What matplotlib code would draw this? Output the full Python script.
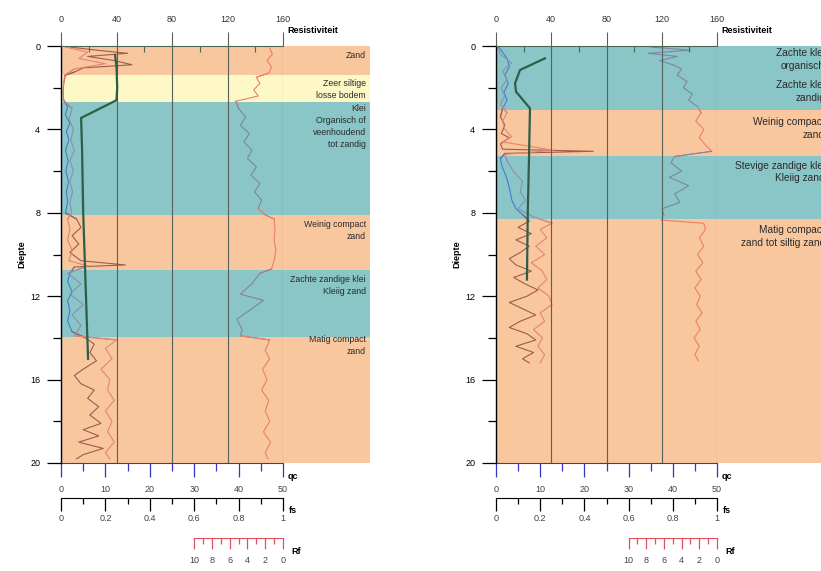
import numpy as np
import matplotlib
matplotlib.use("Agg")
import matplotlib.pyplot as plt

plt.rcParams['font.family'] = ['Liberation Sans', 'DejaVu Sans']

# layer fills and curve colours per soil type
FILL = {"sand": "#F9C79D", "clay": "#8AC5C7", "silt": "#FDF8C6"}
QC_COL = {"sand": "#A05A50", "silt": "#A05A50", "clay": "#3F7FCC"}
FS_COL = {"sand": "#E68472", "silt": "#E68472", "clay": "#8C8FB0"}
RF_COL = {"sand": "#EE7E68", "silt": "#EE7E68", "clay": "#7F86A4"}
RES_COL = "#2E5E48"
GRID_COL = "#56625A"

RES_TICKS = [0, 40, 80, 120, 160]
RES_MINOR = [20, 60, 100, 140]
DEPTH_TICKS = [0, 4, 8, 12, 16, 20]
QC_TICKS = [0, 10, 20, 30, 40, 50]
FS_TICKS = [0, 0.2, 0.4, 0.6, 0.8, 1]
FS_LABELS = ["0", "0.2", "0.4", "0.6", "0.8", "1"]
RF_TICKS = [10, 8, 6, 4, 2, 0]

# ---------------- left sounding ----------------
left_layers = [(0.0, 1.39, "sand"), (1.39, 2.69, "silt"), (2.69, 8.1, "clay"),
               (8.1, 10.74, "sand"), (10.74, 13.96, "clay"), (13.96, 20.0, "sand")]
left_labels = [(0.22, "Zand"), (1.56, "Zeer siltige\nlosse bodem"),
               (2.78, "Klei\nOrganisch of\nveenhoudend\ntot zandig"),
               (8.35, "Weinig compact\nzand"), (11.0, "Zachte zandige klei\nKleiig zand"),
               (13.85, "Matig compact\nzand")]

left_qc_d = [0.05, 0.2, 0.35, 0.5, 0.7, 0.9, 1.05, 1.25, 1.4, 1.8, 2.2, 2.6, 2.9, 3.3, 3.7,
             4.1, 4.5, 5.0, 5.5, 6.0, 6.5, 7.0, 7.5, 8.0, 8.3, 8.7, 9.1, 9.5, 9.9, 10.3,
             10.5, 10.6, 10.9, 11.3, 11.8, 12.2, 12.7, 13.2, 13.7, 14.0, 14.3, 14.7, 15.1,
             15.5, 15.8, 16.2, 16.5, 16.9, 17.3, 17.7, 18.1, 18.4, 18.7, 19.0, 19.3, 19.6, 19.8]
left_qc = [2, 8, 15, 6, 12, 16, 5, 3, 1, 0.6, 0.5, 0.6, 1.5, 1.0, 2.0,
           1.2, 1.8, 1.0, 1.6, 1.1, 1.7, 1.2, 1.5, 1.0, 3.5, 4.5, 2.5, 4.0, 2.0, 4.5,
           14.5, 3.0, 2.0, 1.5, 2.5, 1.5, 2.0, 1.5, 2.5, 5.5, 7.5, 6.5, 8.0,
           5.0, 3.0, 4.5, 7.5, 6.0, 8.5, 6.5, 9.0, 5.0, 8.5, 4.0, 9.5, 5.0, 3.5]

left_fs_d = [0.05, 0.3, 0.6, 0.85, 1.1, 1.4, 2.0, 2.6, 3.0, 3.5, 4.0, 4.5, 5.0, 5.5, 6.0,
             6.5, 7.0, 7.5, 8.0, 8.3, 8.8, 9.3, 9.8, 10.3, 10.55, 10.9, 11.4, 11.9, 12.4,
             12.9, 13.4, 13.9, 14.1, 14.5, 15.0, 15.5, 16.0, 16.5, 17.0, 17.5, 18.0, 18.5,
             19.0, 19.5, 19.8]
left_fs = [0.02, 0.12, 0.08, 0.20, 0.06, 0.016, 0.01, 0.01, 0.05, 0.036, 0.056, 0.044,
           0.06, 0.04, 0.056, 0.04, 0.052, 0.04, 0.048, 0.03, 0.04, 0.03, 0.05, 0.036,
           0.12, 0.03, 0.09, 0.04, 0.10, 0.05, 0.09, 0.06, 0.25, 0.20, 0.23, 0.18, 0.22,
           0.21, 0.24, 0.20, 0.23, 0.21, 0.24, 0.20, 0.22]

left_rf_d = [0.1, 0.4, 0.7, 1.0, 1.3, 1.5, 1.8, 2.1, 2.4, 2.65, 3.0, 3.4, 3.8, 4.2, 4.6,
             5.0, 5.4, 5.8, 6.2, 6.6, 7.0, 7.4, 7.8, 8.1, 8.3, 8.8, 9.3, 9.8, 10.3, 10.7,
             10.9, 11.4, 11.9, 12.2, 12.6, 13.1, 13.6, 13.9, 14.1, 14.6, 15.0, 15.5, 16.0,
             16.5, 17.0, 17.5, 18.0, 18.5, 19.0, 19.5, 19.8]
left_rf = [1.5, 1.2, 1.8, 1.3, 1.6, 3.0, 2.6, 3.3, 2.8, 5.3, 5.0, 4.2, 4.8, 3.8, 4.4,
           3.5, 4.0, 3.0, 3.6, 2.6, 3.2, 2.4, 2.8, 2.0, 1.0, 0.9, 1.0, 0.8, 1.0, 1.3,
           2.6, 3.5, 4.8, 2.2, 3.5, 5.2, 4.6, 4.8, 1.5, 2.0, 1.5, 2.3, 1.8,
           2.4, 1.6, 2.0, 1.5, 2.2, 1.4, 2.0, 1.7]

left_res_d = [0.45, 1.0, 2.0, 2.6, 3.45, 5.0, 8.0, 11.0, 14.0, 15.0]
left_res = [39, 40, 40.5, 40, 14.5, 15.2, 16, 17.5, 19, 19.5]

# ---------------- right sounding ----------------
right_layers = [(0.0, 3.07, "clay"), (3.07, 5.28, "sand"), (5.28, 8.3, "clay"),
                (8.3, 20.0, "sand")]
right_labels = [(0.1, "Zachte klei\norganisch"), (1.62, "Zachte klei\nzandig"),
                (3.4, "Weinig compact\nzand"), (5.5, "Stevige zandige klei\nKleiig zand"),
                (8.6, "Matig compact\nzand tot siltig zand")]

right_qc_d = [0.0, 0.3, 0.6, 1.0, 1.4, 1.8, 2.2, 2.6, 3.0, 3.4, 3.8, 4.2, 4.4, 4.7, 4.95,
              5.05, 5.15, 5.4, 5.8, 6.2, 6.6, 7.0, 7.4, 7.8, 8.1, 8.4, 8.7, 9.0, 9.3, 9.6,
              9.9, 10.2, 10.5, 10.8, 11.1, 11.4, 11.7, 12.0, 12.3, 12.6, 12.9, 13.2, 13.5,
              13.8, 14.1, 14.4, 14.7, 15.0, 15.2]
right_qc = [0.5, 1.5, 2.5, 3.0, 2.0, 2.8, 1.8, 2.5, 1.5, 1.0, 2.0, 1.2, 3.0, 1.0, 1.5,
            22, 2, 1.0, 1.4, 2.2, 2.8, 3.2, 3.6, 4.5, 6.1, 7.5, 5.0, 8.0, 4.5, 7.5,
            5.5, 3.0, 4.5, 8.0, 4.0, 6.5, 9.5, 7.0, 3.0, 6.0, 9.0, 5.5, 3.0,
            7.0, 9.0, 4.5, 8.5, 6.0, 7.5]

right_fs_d = [0.0, 0.4, 0.8, 1.2, 1.6, 2.0, 2.4, 2.8, 3.2, 3.6, 4.0, 4.35, 4.6, 5.0, 5.2,
              5.5, 6.0, 6.5, 7.0, 7.4, 7.8, 8.2, 8.5, 8.8, 9.2, 9.6, 10.0, 10.4, 10.8,
              11.2, 11.6, 12.0, 12.4, 12.8, 13.2, 13.6, 14.0, 14.4, 14.8, 15.2]
right_fs = [0.004, 0.02, 0.07, 0.03, 0.05, 0.024, 0.04, 0.02, 0.05, 0.03, 0.04, 0.07,
            0.03, 0.26, 0.04, 0.05, 0.078, 0.12, 0.11, 0.134, 0.10, 0.17, 0.254, 0.20,
            0.23, 0.18, 0.22, 0.16, 0.21, 0.23, 0.19, 0.24, 0.254, 0.20, 0.22, 0.17,
            0.21, 0.19, 0.22, 0.20]

right_rf_d = [0.05, 0.2, 0.35, 0.5, 0.7, 0.9, 1.1, 1.4, 1.7, 2.0, 2.3, 2.6, 2.9, 3.2, 3.6,
              4.0, 4.4, 4.8, 5.05, 5.3, 5.6, 6.0, 6.3, 6.7, 7.1, 7.5, 7.8, 8.1, 8.35, 8.5,
              8.8, 9.2, 9.6, 10.0, 10.4, 10.8, 11.2, 11.6, 12.0, 12.4, 12.8, 13.2, 13.6,
              14.0, 14.4, 14.8, 15.1]
right_rf = [7.5, 3.0, 7.8, 4.5, 6.5, 5.0, 4.0, 4.5, 3.4, 3.8, 2.8, 3.2, 2.2, 1.8, 2.4,
            1.5, 2.0, 1.2, 0.6, 4.8, 5.2, 4.0, 5.4, 3.2, 4.8, 4.2, 6.2, 6.0, 6.3, 1.5,
            1.3, 2.0, 1.5, 2.2, 1.6, 2.4, 1.8, 2.5, 1.9, 2.3, 1.7, 2.4, 1.9,
            2.6, 2.0, 2.5, 2.1]

right_res_d = [0.59, 1.15, 1.79, 2.19, 2.99, 5.0, 8.0, 11.2]
right_res = [35.5, 17.4, 13.8, 14.5, 24.6, 24, 23, 22.4]

# figure geometry in pixels
W, H = 821, 571
TOP, BOT = 46, 463


def box(x_left, x_right):
    return [x_left / W, 1 - BOT / H, (x_right - x_left) / W, (BOT - TOP) / H]


def plot_by_layer(ax, depth, values, layers, colors, lw=0.8):
    depth = np.asarray(depth)
    values = np.asarray(values)
    for top, bot, kind in layers:
        idx = np.where((depth >= top) & (depth <= bot))[0]
        if idx.size == 0:
            continue
        lo = max(idx[0] - 1, 0)
        hi = min(idx[-1] + 1, len(depth) - 1)
        ax.plot(values[lo:hi + 1], depth[lo:hi + 1], color=colors[kind], lw=lw,
                solid_joinstyle='round')


def bare(ax, keep):
    for name, sp in ax.spines.items():
        sp.set_visible(name in keep)
    ax.set_facecolor('none')
    ax.set_ylim(20, 0)


def draw_panel(fig, px0, px160, px_end, layers, labels, qc, fs, rf, res,
               label_size=6.3, label_right=4, label_spacing=1.45):
    # coloured soil layers + descriptions
    ax_bg = fig.add_axes(box(px0, px_end))
    ax_bg.set_xlim(0, 1)
    ax_bg.set_ylim(20, 0)
    ax_bg.axis('off')
    for top, bot, kind in layers:
        ax_bg.axhspan(top, bot, color=FILL[kind], lw=0)
    label_x = 1 - label_right / (px_end - px0)
    for d, text in labels:
        ax_bg.text(label_x, d, text, ha='right', va='top', fontsize=label_size,
                   color='#2b2b2b', linespacing=label_spacing)

    # qc
    ax_qc = fig.add_axes(box(px0, px160))
    bare(ax_qc, ['bottom'])
    ax_qc.set_xlim(0, 50)
    ax_qc.set_xticks(QC_TICKS)
    ax_qc.set_xticks(np.arange(5, 50, 10), minor=True)
    ax_qc.set_yticks([])
    ax_qc.spines['bottom'].set_color('#3535C8')
    ax_qc.tick_params(axis='x', which='major', length=10, width=0.9, color='#3535C8',
                      labelsize=6.5, labelcolor='#444444', pad=6)
    ax_qc.tick_params(axis='x', which='minor', length=6, width=0.9, color='#3535C8')
    ax_qc.annotate('qc', xy=(1, 0), xycoords='axes fraction', xytext=(3, -10),
                   textcoords='offset points', fontsize=6.5, fontweight='bold',
                   va='center', ha='left')
    ax_qc.annotate('fs', xy=(1, 0), xycoords='axes fraction', xytext=(4, -34),
                   textcoords='offset points', fontsize=6.5, fontweight='bold',
                   va='center', ha='left')
    ax_qc.annotate('Rf', xy=(1, 0), xycoords='axes fraction', xytext=(6, -64),
                   textcoords='offset points', fontsize=6.5, fontweight='bold',
                   va='center', ha='left')
    plot_by_layer(ax_qc, qc[0], qc[1], layers, QC_COL)

    # fs
    ax_fs = fig.add_axes(box(px0, px160))
    bare(ax_fs, ['bottom'])
    ax_fs.set_xlim(0, 1)
    ax_fs.spines['bottom'].set_position(('outward', 25))
    ax_fs.set_xticks(FS_TICKS)
    ax_fs.set_xticklabels(FS_LABELS)
    ax_fs.set_xticks(np.arange(0.1, 1, 0.2), minor=True)
    ax_fs.set_yticks([])
    ax_fs.tick_params(axis='x', which='major', length=9, width=0.9,
                      labelsize=6.5, labelcolor='#444444', pad=3)
    ax_fs.tick_params(axis='x', which='minor', length=4.5, width=0.9)
    plot_by_layer(ax_fs, fs[0], fs[1], layers, FS_COL)

    # Rf (reversed scale over the right part of the track)
    px30 = px0 + 0.6 * (px160 - px0)
    ax_rf = fig.add_axes(box(px30, px160))
    bare(ax_rf, ['bottom'])
    ax_rf.set_xlim(10, 0)
    ax_rf.spines['bottom'].set_position(('outward', 54))
    ax_rf.spines['bottom'].set_color('#E2505E')
    ax_rf.set_xticks(RF_TICKS)
    ax_rf.set_xticks(np.arange(1, 10, 2), minor=True)
    ax_rf.set_yticks([])
    ax_rf.tick_params(axis='x', which='major', length=8, width=0.9, color='#E2505E',
                      labelsize=6.5, labelcolor='#444444', pad=5)
    ax_rf.tick_params(axis='x', which='minor', length=4.5, width=0.9, color='#E2505E')
    plot_by_layer(ax_rf, rf[0], rf[1], layers, RF_COL)

    # resistivity + depth axis
    ax_res = fig.add_axes(box(px0, px160))
    bare(ax_res, ['top', 'left'])
    ax_res.set_xlim(0, 160)
    ax_res.xaxis.tick_top()
    ax_res.set_xticks(RES_TICKS)
    ax_res.set_xticks(RES_MINOR, minor=True)
    ax_res.spines['top'].set_color('#4D6650')
    ax_res.tick_params(axis='x', which='major', direction='out', length=10, width=0.8,
                       color=GRID_COL, labelsize=6.5, labelcolor='#333333', pad=6)
    ax_res.tick_params(axis='x', which='minor', direction='in', length=4, width=0.8,
                       color='#4D6650')
    ax_res.grid(axis='x', which='major', color=GRID_COL, lw=0.8)
    ax_res.set_yticks(DEPTH_TICKS)
    ax_res.set_yticks(np.arange(2, 20, 4), minor=True)
    ax_res.tick_params(axis='y', which='major', length=10, width=0.9,
                       labelsize=6.5, pad=5)
    ax_res.tick_params(axis='y', which='minor', length=5.5, width=0.9)
    ax_res.spines['left'].set_linewidth(1.0)
    ax_res.set_ylabel('Diepte', fontsize=6.5, fontweight='bold', labelpad=3)
    ax_res.annotate('Resistiviteit', xy=(1, 1), xycoords='axes fraction', xytext=(3, 11),
                    textcoords='offset points', fontsize=6.5, fontweight='bold',
                    va='center', ha='left')
    ax_res.plot(res[1], res[0], color=RES_COL, lw=1.6)


def main():
    fig = plt.figure(figsize=(W / 100, H / 100), dpi=100)
    draw_panel(fig, 61, 283, 370, left_layers, left_labels,
               (left_qc_d, left_qc), (left_fs_d, left_fs), (left_rf_d, left_rf),
               (left_res_d, left_res))
    # right sounding: its descriptions run past the picture edge, as in the original
    draw_panel(fig, 496, 717, 840, right_layers, right_labels,
               (right_qc_d, right_qc), (right_fs_d, right_fs), (right_rf_d, right_rf),
               (right_res_d, right_res), label_size=7.3, label_right=15,
               label_spacing=1.35)
    fig.savefig('out.png', dpi=100)


if __name__ == "__main__":
    main()
